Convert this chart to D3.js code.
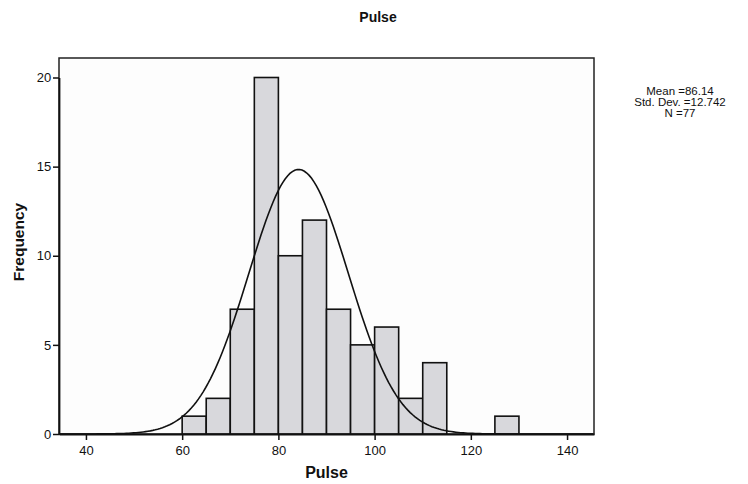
<!DOCTYPE html>
<html>
<head>
<meta charset="utf-8">
<script src="https://cdn.jsdelivr.net/npm/d3@7"></script>
<style>
  body { margin: 0; background: #fff; }
  text { font-family: "Liberation Sans", Arial, sans-serif; fill: #111; }
</style>
</head>
<body>
<svg id="chart" width="748" height="484"></svg>
<script>
// histogram bins (lower edge, width 5) and counts
var binStarts = [60, 65, 70, 75, 80, 85, 90, 95, 100, 105, 110, 115, 120, 125];
var counts    = [1, 2, 7, 20, 10, 12, 7, 5, 6, 2, 4, 0, 0, 1];
var binWidth = 5;
var xTicks = [40, 60, 80, 100, 120, 140];
var yTicks = [0, 5, 10, 15, 20];
var statLines = ['Mean =86.14', 'Std. Dev. =12.742', 'N =77'];
var curveMean = 84.2;
var curveSd = 10.35;
var curveN = 77;

var svg = d3.select('#chart');
var plotL = 59, plotR = 594, plotT = 58, plotB = 434;

var x = d3.scaleLinear().domain([34.4, 145.6]).range([plotL, plotR]);
var y = d3.scaleLinear().domain([0, 20]).range([plotB, 77.5]);

// plot box
svg.append('rect')
    .attr('x', plotL).attr('y', plotT)
    .attr('width', plotR - plotL).attr('height', plotB - plotT)
    .attr('fill', '#fdfdfd')
    .attr('stroke', '#222').attr('stroke-width', 1.5);

// bars
var bars = binStarts.map(function(b, i) { return { x0: b, x1: b + binWidth, n: counts[i] }; })
    .filter(function(d) { return d.n > 0; });

svg.append('g').selectAll('rect')
    .data(bars)
    .enter().append('rect')
    .attr('x', function(d) { return x(d.x0); })
    .attr('y', function(d) { return y(d.n); })
    .attr('width', function(d) { return x(d.x1) - x(d.x0); })
    .attr('height', function(d) { return y(0) - y(d.n); })
    .attr('fill', '#d8d8dc')
    .attr('stroke', '#111')
    .attr('stroke-width', 1.6);

// normal curve
var pts = d3.range(34.4, 145.6, 0.5).map(function(v) {
    var z = (v - curveMean) / curveSd;
    return [v, curveN * binWidth * Math.exp(-0.5 * z * z) / (curveSd * Math.sqrt(2 * Math.PI))];
});
svg.append('path')
    .datum(pts)
    .attr('fill', 'none')
    .attr('stroke', '#111')
    .attr('stroke-width', 1.6)
    .attr('d', d3.line().x(function(d) { return x(d[0]); }).y(function(d) { return y(d[1]); }));

// axes
var xAxis = svg.append('g')
    .attr('transform', 'translate(0,' + plotB + ')')
    .call(d3.axisBottom(x).tickValues(xTicks).tickSize(6).tickSizeOuter(0));
var yAxis = svg.append('g')
    .attr('transform', 'translate(' + plotL + ',0)')
    .call(d3.axisLeft(y).tickValues(yTicks).tickSize(6).tickSizeOuter(0));

[xAxis, yAxis].forEach(function(g) {
    g.select('.domain').attr('stroke', '#111').attr('stroke-width', 1.8);
    g.selectAll('.tick line').attr('stroke', '#111').attr('stroke-width', 1.5);
    g.selectAll('.tick text').attr('font-size', 13).attr('fill', '#111')
        .attr('font-family', '"Liberation Sans", Arial, sans-serif');
});
xAxis.selectAll('.tick text').attr('dy', '0.9em');
yAxis.selectAll('.tick text').attr('dx', '0.1em');

// titles
svg.append('text')
    .attr('x', 378).attr('y', 22)
    .attr('text-anchor', 'middle')
    .attr('font-size', 14).attr('font-weight', 'bold')
    .text('Pulse');

svg.append('text')
    .attr('x', (plotL + plotR) / 2).attr('y', 478)
    .attr('text-anchor', 'middle')
    .attr('font-size', 16).attr('font-weight', 'bold')
    .text('Pulse');

svg.append('text')
    .attr('transform', 'translate(24,242) rotate(-90)')
    .attr('text-anchor', 'middle')
    .attr('font-size', 15.5).attr('font-weight', 'bold')
    .text('Frequency');

// stats box text
svg.append('g').selectAll('text')
    .data(statLines)
    .enter().append('text')
    .attr('x', 680)
    .attr('y', function(d, i) { return 95 + i * 11; })
    .attr('text-anchor', 'middle')
    .attr('font-size', 11.5)
    .text(function(d) { return d; });
</script>
</body>
</html>
